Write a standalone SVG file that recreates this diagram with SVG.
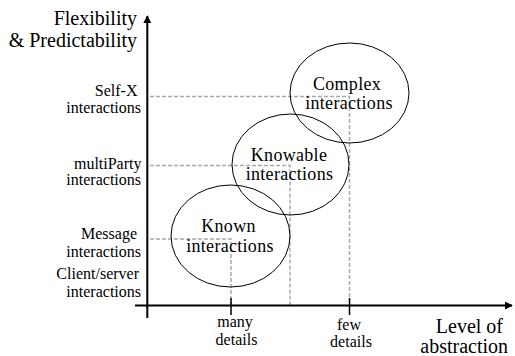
<svg xmlns="http://www.w3.org/2000/svg" width="515" height="356" viewBox="0 0 515 356">
<defs>
<marker id="arr" viewBox="0 0 10 10" refX="9" refY="5" markerWidth="4" markerHeight="4" orient="auto" markerUnits="strokeWidth">
<path d="M0,0 L10,5 L0,10 z" fill="#000"/>
</marker>
<style>
text{font-family:"Liberation Serif","DejaVu Serif",serif;fill:#000}
.ax{font-size:20px;text-anchor:end}
.lb{font-size:16px;text-anchor:end}
.tk{font-size:16px;text-anchor:middle}
.nd{font-size:18px;text-anchor:middle;letter-spacing:0.3px}
.axis{stroke:#000;stroke-width:2;fill:none}
.tick{stroke:#000;stroke-width:1.5}
.dash{stroke:#aaa;stroke-width:1.5;stroke-dasharray:4,2;fill:none}
.ell{fill:none;stroke:#000;stroke-width:1}
</style>
</defs>
<rect width="515" height="356" fill="#fff"/>
<g id="connectors">
<path class="dash" d="M150,96.5 H349.5 V305"/>
<path class="dash" d="M150,165.5 H290 V305"/>
<path class="dash" d="M150,239 H231 V305"/>
<line class="axis" x1="147.3" y1="318" x2="147.3" y2="16" marker-end="url(#arr)"/>
<line class="axis" x1="135" y1="305.5" x2="512" y2="305.5" marker-end="url(#arr)"/>
<line class="tick" x1="231" y1="298" x2="231" y2="315"/>
<line class="tick" x1="349.5" y1="298" x2="349.5" y2="315"/>
</g>
<g id="axis-labels">
<text class="ax" x="137" y="25">Flexibility</text>
<text class="ax" x="137" y="46.5">&amp; Predictability</text>
<text class="ax" x="503" y="333">Level of</text>
<text class="ax" x="508" y="352.5">abstraction</text>
</g>
<g id="y-labels">
<text class="lb" x="137.5" y="96">Self-X</text>
<text class="lb" x="141" y="113">interactions</text>
<text class="lb" x="141.5" y="168.5">multiParty</text>
<text class="lb" x="141" y="185">interactions</text>
<text class="lb" x="137" y="239">Message</text>
<text class="lb" x="141" y="256.5">interactions</text>
<text class="lb" x="139" y="278.5">Client/server</text>
<text class="lb" x="141" y="296.5">interactions</text>
</g>
<g id="x-labels">
<text class="tk" x="235" y="327">many</text>
<text class="tk" x="236.5" y="345">details</text>
<text class="tk" x="349" y="329.5">few</text>
<text class="tk" x="351" y="346.5">details</text>
</g>
<g id="known">
<ellipse class="ell" cx="230.5" cy="236" rx="59.5" ry="51"/>
<text class="nd" x="228.5" y="231.5">Known</text>
<text class="nd" x="230" y="251.5">interactions</text>
</g>
<g id="knowable">
<ellipse class="ell" cx="290.5" cy="164.5" rx="58.5" ry="50.5"/>
<text class="nd" x="289" y="160.5">Knowable</text>
<text class="nd" x="289.5" y="180">interactions</text>
</g>
<g id="complex">
<ellipse class="ell" cx="349.5" cy="93" rx="59.5" ry="50"/>
<text class="nd" x="347" y="89.5">Complex</text>
<text class="nd" x="349" y="109">interactions</text>
</g>
</svg>
